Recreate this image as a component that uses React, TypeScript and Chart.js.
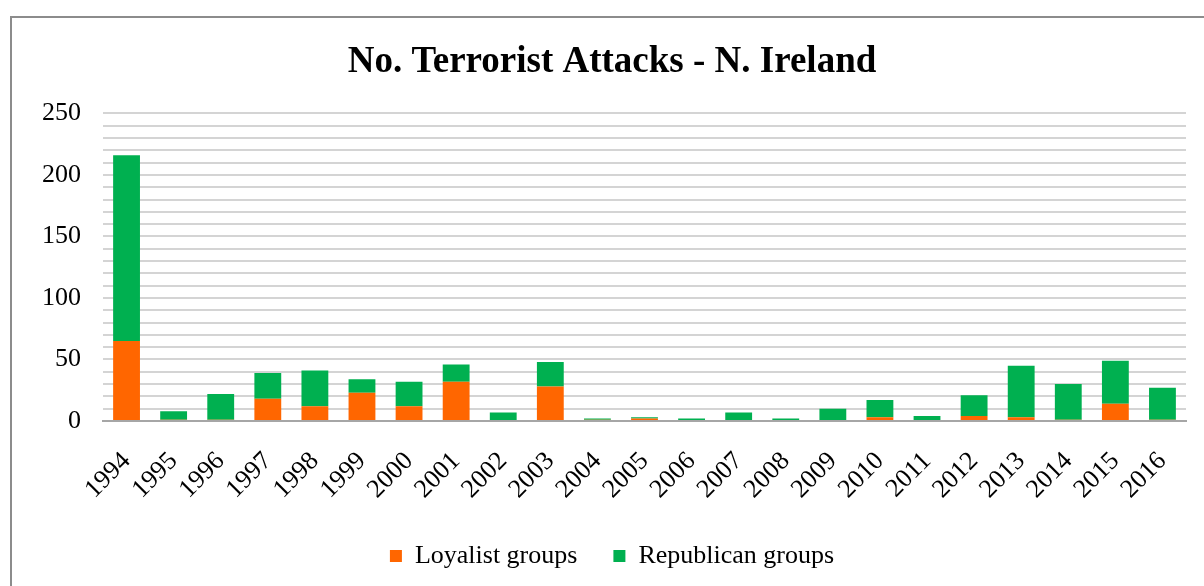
import { useEffect, useRef } from "react";
import { Chart, registerables } from "chart.js";

Chart.register(...registerables);

// Yearly attack counts, split by group type
const years = [
  "1994", "1995", "1996", "1997", "1998", "1999", "2000", "2001",
  "2002", "2003", "2004", "2005", "2006", "2007", "2008", "2009",
  "2010", "2011", "2012", "2013", "2014", "2015", "2016",
];
const loyalist = [65, 1, 1, 18, 12, 23, 12, 32, 0, 28, 1, 2, 0, 0, 0, 0, 3, 0, 4, 3, 1, 14, 1];
const republican = [151, 7, 21, 21, 29, 11, 20, 14, 7, 20, 1, 1, 2, 7, 2, 10, 14, 4, 17, 42, 29, 35, 26];
const labeledTicks = [0, 50, 100, 150, 200, 250];

const SERIF = "'Liberation Serif', 'Times New Roman', serif";

export default function App() {
  const canvasRef = useRef<HTMLCanvasElement | null>(null);

  useEffect(() => {
    const canvas = canvasRef.current;
    if (!canvas) return;
    const chart = new Chart(canvas, {
      type: "bar",
      data: {
        labels: years,
        datasets: [
          {
            label: "Loyalist groups",
            data: loyalist,
            backgroundColor: "#FF6600",
            barPercentage: 0.57,
            categoryPercentage: 1,
          },
          {
            label: "Republican groups",
            data: republican,
            backgroundColor: "#00B050",
            barPercentage: 0.57,
            categoryPercentage: 1,
          },
        ],
      },
      options: {
        animation: false,
        responsive: false,
        maintainAspectRatio: false,
        layout: { padding: { left: 0, right: 0, top: 0, bottom: 19 } },
        plugins: {
          title: {
            display: true,
            text: "No. Terrorist Attacks - N. Ireland",
            color: "#000",
            font: { family: SERIF, size: 37, weight: "bold" },
            padding: { top: 22, bottom: 29 },
          },
          legend: {
            position: "bottom",
            labels: {
              color: "#000",
              font: { family: SERIF, size: 26 },
              boxWidth: 12,
              boxHeight: 12,
              padding: 36,
            },
          },
          tooltip: { enabled: false },
        },
        scales: {
          x: {
            stacked: true,
            grid: { display: false },
            border: { display: true, color: "#a6a6a6", width: 2 },
            ticks: {
              color: "#000",
              font: { family: SERIF, size: 26 },
              minRotation: 45,
              maxRotation: 45,
              autoSkip: false,
              padding: 17,
            },
            afterFit: (scale: any) => {
              scale.height = 86;
            },
          },
          y: {
            stacked: true,
            min: 0,
            max: 250,
            grid: { color: "#d4d4d4", lineWidth: 2, drawTicks: false },
            border: { display: false },
            ticks: {
              stepSize: 10,
              maxTicksLimit: 100,
              autoSkip: false,
              color: "#000",
              font: { family: SERIF, size: 26 },
              padding: 22,
              callback: (v: any) => (labeledTicks.includes(Number(v)) ? String(v) : ""),
            },
            afterFit: (scale: any) => {
              scale.width = 91;
            },
          },
          // empty right-hand margin beside the plot
          yRight: {
            type: "linear",
            position: "right",
            display: true,
            grid: { display: false, drawTicks: false },
            border: { display: false },
            ticks: { display: false },
            afterFit: (scale: any) => {
              scale.width = 26;
            },
          },
        },
      },
    });
    return () => chart.destroy();
  }, []);

  return (
    <div style={{ position: "fixed", inset: 0, overflow: "hidden", background: "#fff" }}>
      <div
        style={{
          position: "absolute",
          left: 10,
          top: 16,
          width: 1200,
          height: 580,
          border: "2px solid #8c8c8c",
          background: "#fff",
        }}
      >
        <canvas ref={canvasRef} width={1200} height={580} style={{ display: "block" }} />
      </div>
    </div>
  );
}
